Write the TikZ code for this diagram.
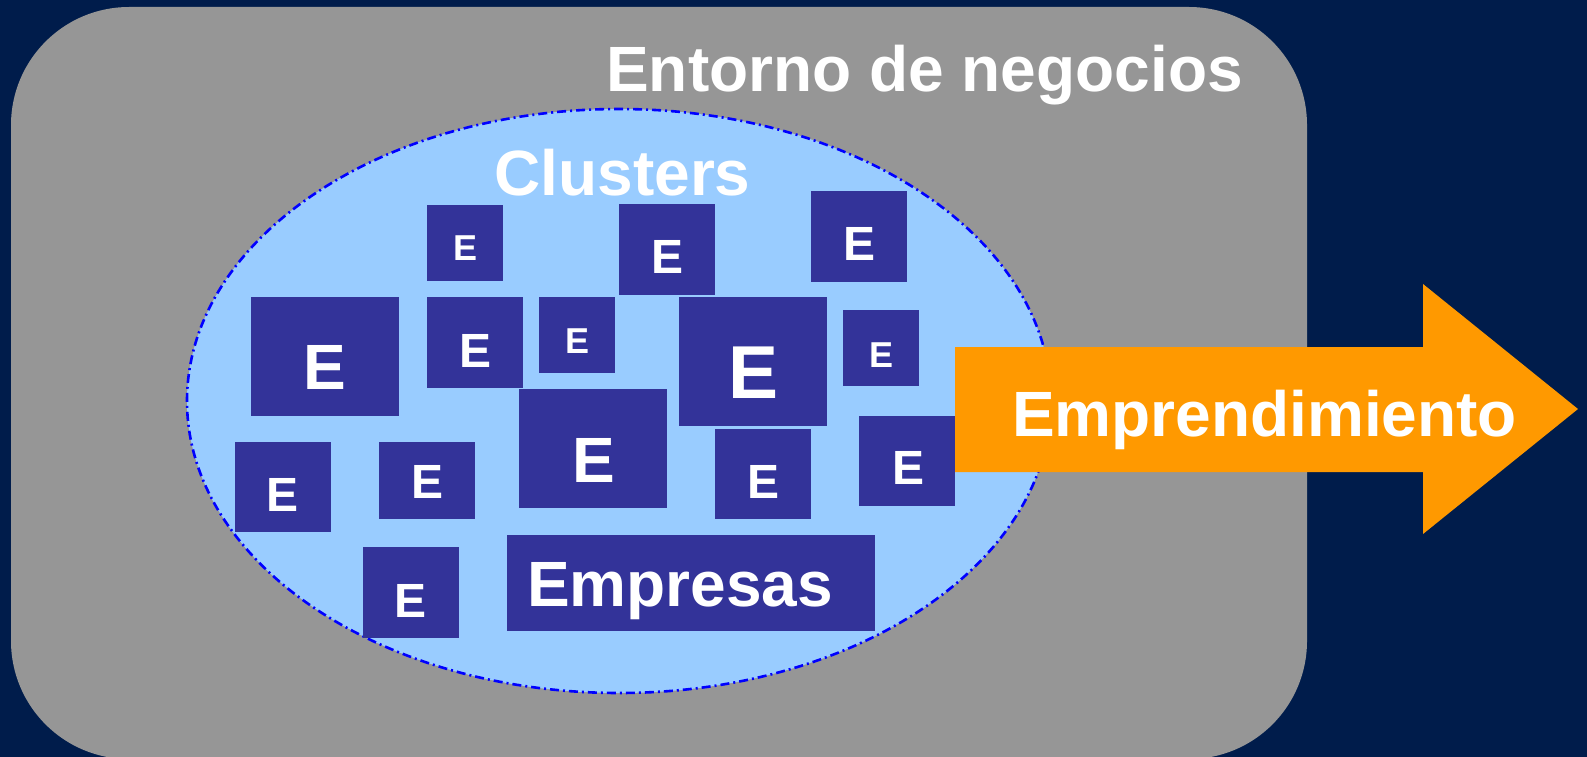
\documentclass[tikz,border=0pt]{standalone}
\usepackage{fontspec}
\setmainfont{Liberation Sans}
\definecolor{navy}{RGB}{0,28,75}
\definecolor{envgray}{RGB}{150,150,150}
\definecolor{clusterblue}{RGB}{153,204,255}
\definecolor{boxblue}{RGB}{51,51,153}
\definecolor{arroworange}{RGB}{255,153,0}
\definecolor{dashblue}{RGB}{0,0,255}
\newcommand\efont[1]{\fontsize{#1}{#1}\selectfont\bfseries}
\newcommand\mkbox[8]{%
  \pgfmathsetmacro\bw{#4-#2}\pgfmathsetmacro\bh{#5-#3}%
  \pgfmathsetmacro\bx{(#2+#4)/2}\pgfmathsetmacro\by{(#3+#5)/2}%
  \node[ebox,minimum width=\bw pt,minimum height=\bh pt] (#1) at (\bx,\by) {};%
  \node[etext,font={\efont{#8}}] (#1t) at (#6,#7) {E};}
\begin{document}
\begin{tikzpicture}[x=1pt,y=-1pt,
  ebox/.style={fill=boxblue,draw=none,inner sep=0pt,outer sep=0pt},
  etext/.style={text=white,inner sep=0pt,anchor=center},
  bigtext/.style={text=white,inner sep=0pt,anchor=base,font={\efont{64}}}]
\useasboundingbox (0,0) rectangle (1587,757);
\fill[navy] (0,0) rectangle (1587,757);
% business environment
\fill[envgray,rounded corners=118pt] (11,7) rectangle (1307,759);
% cluster ellipse
\fill[clusterblue] (619,401) ellipse [x radius=432pt, y radius=292pt];
\draw[dashblue,line width=2.6pt,dash pattern=on 9pt off 4pt on 2pt off 4pt]
  (619,401) ellipse [x radius=432pt, y radius=292pt];
% company boxes
\mkbox{bA}{427}{205}{503}{281}{465}{248}{36}
\mkbox{bB}{251}{297}{399}{416}{325}{367}{64}
\mkbox{bC}{427}{297}{523}{388}{476}{351}{48}
\mkbox{bD}{539}{297}{615}{373}{577}{341}{36}
\mkbox{bE}{519}{389}{667}{508}{594}{460}{64}
\mkbox{bF}{235}{442}{331}{532}{283}{495}{48}
\mkbox{bG}{379}{442}{475}{519}{428}{482}{48}
\mkbox{bH}{619}{204}{715}{295}{667}{257}{48}
\mkbox{bI}{811}{191}{907}{282}{859}{244}{48}
\mkbox{bJ}{679}{297}{827}{426}{754}{373}{75}
\mkbox{bK}{843}{310}{919}{386}{881}{355}{36}
\mkbox{bL}{715}{429}{811}{519}{763}{482}{48}
\mkbox{bM}{859}{416}{955}{506}{908}{468}{48}
\mkbox{bN}{363}{547}{459}{638}{411}{601}{48}
\node[ebox,minimum width=368pt,minimum height=96pt] (empresasbox) at (691,583) {};
\node[bigtext] (empresas) at (680,606) {Empresas};
% arrow
\fill[arroworange] (955,347) -- (1423,347) -- (1423,284) -- (1578,409)
  -- (1423,534) -- (1423,472) -- (955,472) -- cycle;
\node[bigtext] (emprend) at (1264.5,436) {Emprendimiento};
% titles
\node[bigtext] (entorno) at (924.5,92) {Entorno de negocios};
\node[bigtext] (clusters) at (622.5,195) {Clusters};
\end{tikzpicture}
\end{document}
